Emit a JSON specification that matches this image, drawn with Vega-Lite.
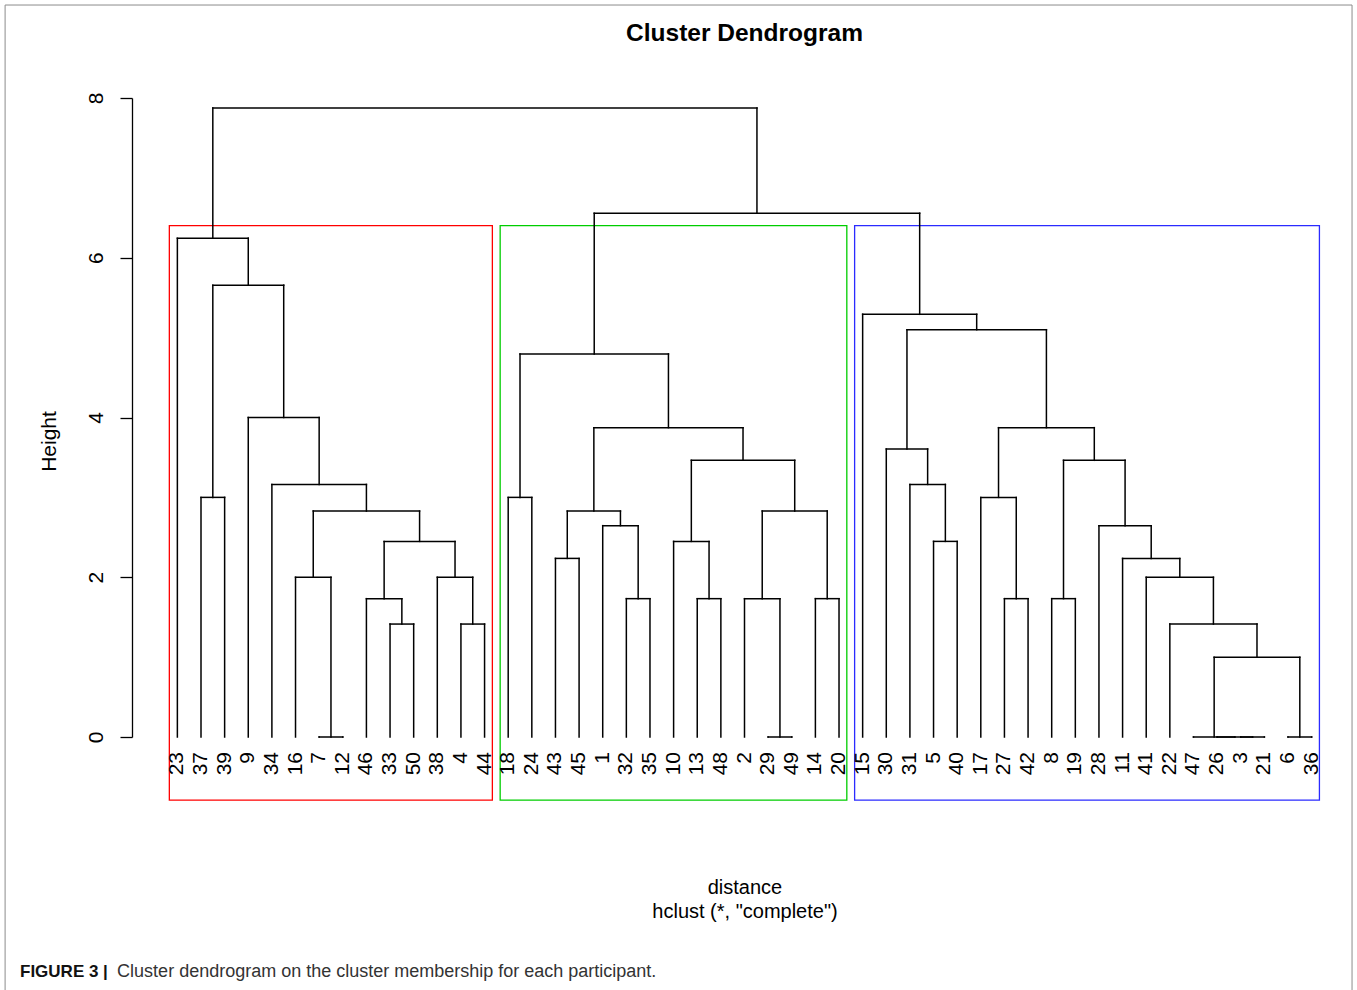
{
  "$schema": "https://vega.github.io/schema/vega-lite/v6.json",
  "width": 1225,
  "height": 639,
  "autosize": {"type": "none"},
  "padding": {"left": 132, "top": 98, "right": 0, "bottom": 253},
  "background": "white",
  "config": {"view": {"stroke": null}, "axis": {"grid": false}},
  "datasets": {
    "merges": [
      {"node": "A1", "xl": 7, "hl": 0, "xr": 8, "hr": 0, "h": 0},
      {"node": "A2", "xl": 10, "hl": 0, "xr": 11, "hr": 0, "h": 1.414},
      {"node": "A3", "xl": 13, "hl": 0, "xr": 14, "hr": 0, "h": 1.414},
      {"node": "A4", "xl": 9, "hl": 0, "xr": 10.5, "hr": 1.414, "h": 1.732},
      {"node": "A5", "xl": 12, "hl": 0, "xr": 13.5, "hr": 1.414, "h": 2.0},
      {"node": "A6", "xl": 6, "hl": 0, "xr": 7.5, "hr": 0, "h": 2.0},
      {"node": "A7", "xl": 9.75, "hl": 1.732, "xr": 12.75, "hr": 2.0, "h": 2.449},
      {"node": "A8", "xl": 6.75, "hl": 2.0, "xr": 11.25, "hr": 2.449, "h": 2.828},
      {"node": "A9", "xl": 5, "hl": 0, "xr": 9.0, "hr": 2.828, "h": 3.162},
      {"node": "A10", "xl": 4, "hl": 0, "xr": 7.0, "hr": 3.162, "h": 4.0},
      {"node": "A11", "xl": 2, "hl": 0, "xr": 3, "hr": 0, "h": 3.0},
      {"node": "A12", "xl": 2.5, "hl": 3.0, "xr": 5.5, "hr": 4.0, "h": 5.657},
      {"node": "A13", "xl": 1, "hl": 0, "xr": 4.0, "hr": 5.657, "h": 6.245},
      {"node": "B1", "xl": 26, "hl": 0, "xr": 27, "hr": 0, "h": 0},
      {"node": "B2", "xl": 25, "hl": 0, "xr": 26.5, "hr": 0, "h": 1.732},
      {"node": "B3", "xl": 28, "hl": 0, "xr": 29, "hr": 0, "h": 1.732},
      {"node": "B4", "xl": 25.75, "hl": 1.732, "xr": 28.5, "hr": 1.732, "h": 2.828},
      {"node": "B5", "xl": 23, "hl": 0, "xr": 24, "hr": 0, "h": 1.732},
      {"node": "B6", "xl": 22, "hl": 0, "xr": 23.5, "hr": 1.732, "h": 2.449},
      {"node": "B7", "xl": 22.75, "hl": 2.449, "xr": 27.125, "hr": 2.828, "h": 3.464},
      {"node": "B8", "xl": 20, "hl": 0, "xr": 21, "hr": 0, "h": 1.732},
      {"node": "B9", "xl": 19, "hl": 0, "xr": 20.5, "hr": 1.732, "h": 2.646},
      {"node": "B10", "xl": 17, "hl": 0, "xr": 18, "hr": 0, "h": 2.236},
      {"node": "B11", "xl": 17.5, "hl": 2.236, "xr": 19.75, "hr": 2.646, "h": 2.828},
      {"node": "B12", "xl": 18.625, "hl": 2.828, "xr": 24.9375, "hr": 3.464, "h": 3.873},
      {"node": "B13", "xl": 15, "hl": 0, "xr": 16, "hr": 0, "h": 3.0},
      {"node": "B14", "xl": 15.5, "hl": 3.0, "xr": 21.78125, "hr": 3.873, "h": 4.796},
      {"node": "C1", "xl": 46, "hl": 0, "xr": 47, "hr": 0, "h": 0},
      {"node": "C2", "xl": 45, "hl": 0, "xr": 46.5, "hr": 0, "h": 0},
      {"node": "C3", "xl": 44, "hl": 0, "xr": 45.75, "hr": 0, "h": 0},
      {"node": "C4", "xl": 48, "hl": 0, "xr": 49, "hr": 0, "h": 0},
      {"node": "C5", "xl": 44.875, "hl": 0, "xr": 48.5, "hr": 0, "h": 1.0},
      {"node": "C6", "xl": 43, "hl": 0, "xr": 46.6875, "hr": 1.0, "h": 1.414},
      {"node": "C7", "xl": 42, "hl": 0, "xr": 44.84375, "hr": 1.414, "h": 2.0},
      {"node": "C8", "xl": 41, "hl": 0, "xr": 43.421875, "hr": 2.0, "h": 2.236},
      {"node": "C9", "xl": 40, "hl": 0, "xr": 42.2109375, "hr": 2.236, "h": 2.646},
      {"node": "C10", "xl": 38, "hl": 0, "xr": 39, "hr": 0, "h": 1.732},
      {"node": "C11", "xl": 38.5, "hl": 1.732, "xr": 41.10546875, "hr": 2.646, "h": 3.464},
      {"node": "C12", "xl": 36, "hl": 0, "xr": 37, "hr": 0, "h": 1.732},
      {"node": "C13", "xl": 35, "hl": 0, "xr": 36.5, "hr": 1.732, "h": 3.0},
      {"node": "C14", "xl": 35.75, "hl": 3.0, "xr": 39.802734375, "hr": 3.464, "h": 3.873},
      {"node": "C15", "xl": 33, "hl": 0, "xr": 34, "hr": 0, "h": 2.449},
      {"node": "C16", "xl": 32, "hl": 0, "xr": 33.5, "hr": 2.449, "h": 3.162},
      {"node": "C17", "xl": 31, "hl": 0, "xr": 32.75, "hr": 3.162, "h": 3.606},
      {"node": "C18", "xl": 31.875, "hl": 3.606, "xr": 37.7763671875, "hr": 3.873, "h": 5.099},
      {"node": "C19", "xl": 30, "hl": 0, "xr": 34.82568359375, "hr": 5.099, "h": 5.292},
      {"node": "D1", "xl": 18.640625, "hl": 4.796, "xr": 32.412841796875, "hr": 5.292, "h": 6.557},
      {"node": "R", "xl": 2.5, "hl": 6.245, "xr": 25.5267333984375, "hr": 6.557, "h": 7.874}
    ],
    "leaves": [
      {"pos": 1, "label": "23"}, {"pos": 2, "label": "37"}, {"pos": 3, "label": "39"},
      {"pos": 4, "label": "9"}, {"pos": 5, "label": "34"}, {"pos": 6, "label": "16"},
      {"pos": 7, "label": "7"}, {"pos": 8, "label": "12"}, {"pos": 9, "label": "46"},
      {"pos": 10, "label": "33"}, {"pos": 11, "label": "50"}, {"pos": 12, "label": "38"},
      {"pos": 13, "label": "4"}, {"pos": 14, "label": "44"}, {"pos": 15, "label": "18"},
      {"pos": 16, "label": "24"}, {"pos": 17, "label": "43"}, {"pos": 18, "label": "45"},
      {"pos": 19, "label": "1"}, {"pos": 20, "label": "32"}, {"pos": 21, "label": "35"},
      {"pos": 22, "label": "10"}, {"pos": 23, "label": "13"}, {"pos": 24, "label": "48"},
      {"pos": 25, "label": "2"}, {"pos": 26, "label": "29"}, {"pos": 27, "label": "49"},
      {"pos": 28, "label": "14"}, {"pos": 29, "label": "20"}, {"pos": 30, "label": "15"},
      {"pos": 31, "label": "30"}, {"pos": 32, "label": "31"}, {"pos": 33, "label": "5"},
      {"pos": 34, "label": "40"}, {"pos": 35, "label": "17"}, {"pos": 36, "label": "27"},
      {"pos": 37, "label": "42"}, {"pos": 38, "label": "8"}, {"pos": 39, "label": "19"},
      {"pos": 40, "label": "28"}, {"pos": 41, "label": "11"}, {"pos": 42, "label": "41"},
      {"pos": 43, "label": "22"}, {"pos": 44, "label": "47"}, {"pos": 45, "label": "26"},
      {"pos": 46, "label": "3"}, {"pos": 47, "label": "21"}, {"pos": 48, "label": "6"},
      {"pos": 49, "label": "36"}
    ],
    "clusters": [
      {"cluster": "1", "xs": 0.66, "xe": 14.33},
      {"cluster": "2", "xs": 14.66, "xe": 29.33},
      {"cluster": "3", "xs": 29.66, "xe": 49.33}
    ]
  },
  "layer": [
    {
      "data": {"values": [{}]},
      "mark": {"type": "rect", "filled": false, "stroke": "#8c8c8c", "strokeWidth": 1},
      "encoding": {
        "x": {"datum": -6.29, "type": "quantitative", "scale": {"domain": [-0.92, 50.92], "nice": false, "zero": false},
          "axis": {"domain": false, "ticks": false, "labels": false, "grid": false,
            "title": ["distance", "hclust (*, \"complete\")"],
            "titleFont": "Liberation Sans", "titleFontSize": 20, "titleFontWeight": "normal", "titleColor": "#000000",
            "titleX": 612.5, "titleY": 156, "titleAlign": "center", "titleBaseline": "alphabetic", "titleLineHeight": 24}},
        "x2": {"datum": 50.71},
        "y": {"datum": 9.164, "type": "quantitative", "scale": {"domain": [0, 8], "nice": false, "zero": false},
          "axis": {"values": [0, 2, 4, 6, 8], "format": "d", "grid": false,
            "domainColor": "#000000", "domainWidth": 1.3, "tickColor": "#000000", "tickWidth": 1.3, "tickSize": 12,
            "labelAngle": 270, "labelAlign": "center", "labelBaseline": "bottom", "labelPadding": 14,
            "labelFont": "Liberation Sans", "labelFontSize": 21, "labelColor": "#000000", "labelOverlap": false, "labelFlush": false,
            "title": "Height", "titleFont": "Liberation Sans", "titleFontSize": 21, "titleFontWeight": "normal", "titleColor": "#000000",
            "titleAngle": 270, "titleAlign": "center", "titleBaseline": "alphabetic", "titleX": -77, "titleY": 343}},
        "y2": {"datum": -3.4}
      }
    },
    {
      "data": {"name": "clusters"},
      "mark": {"type": "rect", "filled": false, "strokeWidth": 1.3},
      "encoding": {
        "x": {"field": "xs", "type": "quantitative"},
        "x2": {"field": "xe"},
        "y": {"datum": 6.401, "type": "quantitative"},
        "y2": {"datum": -0.79},
        "color": {"field": "cluster", "type": "nominal", "legend": null, "scale": {"range": ["#FF0000", "#00CD00", "#2B2BFF"]}}
      }
    },
    {
      "data": {"name": "merges"},
      "mark": {"type": "rule", "color": "#000000", "strokeWidth": 1.5, "strokeCap": "square"},
      "encoding": {
        "x": {"field": "xl", "type": "quantitative"},
        "x2": {"field": "xr"},
        "y": {"field": "h", "type": "quantitative"}
      }
    },
    {
      "data": {"name": "merges"},
      "mark": {"type": "rule", "color": "#000000", "strokeWidth": 1.5, "strokeCap": "square"},
      "encoding": {
        "x": {"field": "xl", "type": "quantitative"},
        "y": {"field": "hl", "type": "quantitative"},
        "y2": {"field": "h"}
      }
    },
    {
      "data": {"name": "merges"},
      "mark": {"type": "rule", "color": "#000000", "strokeWidth": 1.5, "strokeCap": "square"},
      "encoding": {
        "x": {"field": "xr", "type": "quantitative"},
        "y": {"field": "hr", "type": "quantitative"},
        "y2": {"field": "h"}
      }
    },
    {
      "data": {"name": "leaves"},
      "mark": {"type": "text", "angle": 270, "align": "right", "baseline": "middle", "dx": -15, "font": "Liberation Sans", "fontSize": 21, "color": "#000000"},
      "encoding": {
        "x": {"field": "pos", "type": "quantitative"},
        "y": {"datum": 0, "type": "quantitative"},
        "text": {"field": "label"}
      }
    },
    {
      "data": {"values": [{"t": "Cluster Dendrogram"}]},
      "mark": {"type": "text", "align": "center", "baseline": "alphabetic", "font": "Liberation Sans", "fontSize": 24.5, "fontWeight": "bold", "color": "#000000"},
      "encoding": {
        "x": {"datum": 25, "type": "quantitative"},
        "y": {"datum": 8.714, "type": "quantitative"},
        "text": {"field": "t"}
      }
    },
    {
      "data": {"values": [{"t": "FIGURE 3 |"}]},
      "mark": {"type": "text", "align": "left", "baseline": "alphabetic", "font": "Liberation Sans", "fontSize": 17, "fontWeight": "bold", "color": "#111111"},
      "encoding": {
        "x": {"datum": -5.66, "type": "quantitative"},
        "y": {"datum": -3.005, "type": "quantitative"},
        "text": {"field": "t"}
      }
    },
    {
      "data": {"values": [{"t": "Cluster dendrogram on the cluster membership for each participant."}]},
      "mark": {"type": "text", "align": "left", "baseline": "alphabetic", "font": "Liberation Sans", "fontSize": 18, "fontWeight": "normal", "color": "#333333"},
      "encoding": {
        "x": {"datum": -1.55, "type": "quantitative"},
        "y": {"datum": -3.005, "type": "quantitative"},
        "text": {"field": "t"}
      }
    }
  ]
}
